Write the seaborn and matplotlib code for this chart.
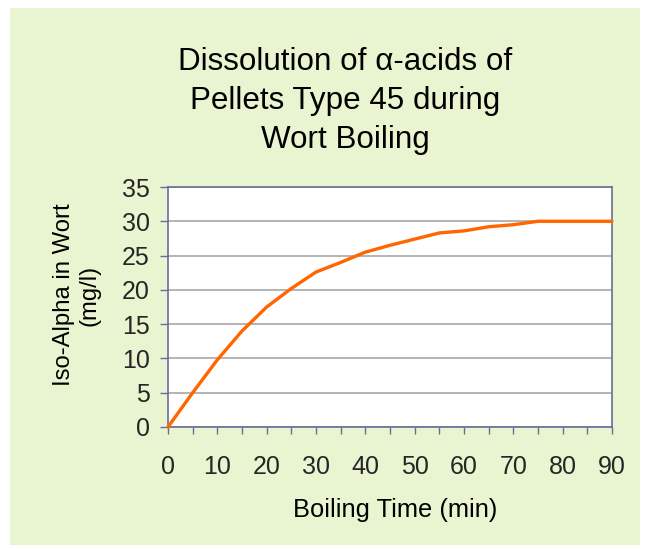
import matplotlib
matplotlib.use("Agg")
import matplotlib.pyplot as plt
import seaborn as sns
import pandas as pd
from matplotlib.patches import Rectangle
from matplotlib.ticker import MultipleLocator

sns.set_theme(style="white")
plt.rcParams['font.family'] = ['Liberation Sans', 'DejaVu Sans']

# data
boil_time = [0, 5, 10, 15, 20, 25, 30, 35, 40, 45, 50, 55, 60, 65, 70, 75, 80, 85, 90]
iso_alpha = [0, 5.0, 9.8, 14.0, 17.5, 20.2, 22.6, 24.0, 25.5, 26.5, 27.4, 28.3,
             28.6, 29.2, 29.5, 30.0, 30.0, 30.0, 30.0]
x_ticks = [0, 10, 20, 30, 40, 50, 60, 70, 80, 90]
y_ticks = [0, 5, 10, 15, 20, 25, 30, 35]

df = pd.DataFrame({"time": boil_time, "iso": iso_alpha})

fig = plt.figure(figsize=(6.54, 5.49), dpi=100)
fig.patch.set_facecolor("white")
bg = Rectangle((10 / 654, 1 - 545 / 549), 630 / 654, 537 / 549,
               transform=fig.transFigure, facecolor="#E9F5D1",
               edgecolor="none", zorder=-10)
fig.patches.append(bg)

ax = fig.add_axes([168 / 654, 1 - 427 / 549, 444 / 654, 240 / 549])
ax.set_zorder(1)
ax.set_facecolor("white")

sns.lineplot(data=df, x="time", y="iso", ax=ax, color="#FF6600", linewidth=2.4,
             clip_on=False, zorder=5)

ax.set_xlim(0, 90)
ax.set_ylim(0, 35)
ax.set_xticks(x_ticks)
ax.xaxis.set_minor_locator(MultipleLocator(5))
ax.set_yticks(y_ticks)

spine_col = "#6B6B9B"
for s in ax.spines.values():
    s.set_color(spine_col)
    s.set_linewidth(1.2)

ax.yaxis.grid(True, color="#A8A8A8", linewidth=1.2)
ax.set_axisbelow(True)

ax.tick_params(axis="x", which="both", direction="out", length=5, width=1,
               color=spine_col, bottom=True)
ax.tick_params(axis="x", which="major", labelsize=18, pad=15)
ax.tick_params(axis="y", direction="out", length=6, width=1, color=spine_col,
               left=True, labelsize=18, pad=7)

ax.set_xlabel("")
ax.set_ylabel("")

fig.text(345 / 654, 1 - 101 / 549,
         "Dissolution of α-acids of\nPellets Type 45 during\nWort Boiling",
         ha="center", va="center", fontsize=22.6, linespacing=1.39, color="black")
fig.text(395 / 654, 1 - 510 / 549, "Boiling Time (min)", ha="center", va="center",
         fontsize=18.4, color="black")
fig.text(77 / 654, 1 - 295 / 549, "Iso-Alpha in Wort\n(mg/l)", ha="center",
         va="center", rotation=90, fontsize=17.2, linespacing=1.2, color="black")

fig.savefig("out.png", dpi=100)
